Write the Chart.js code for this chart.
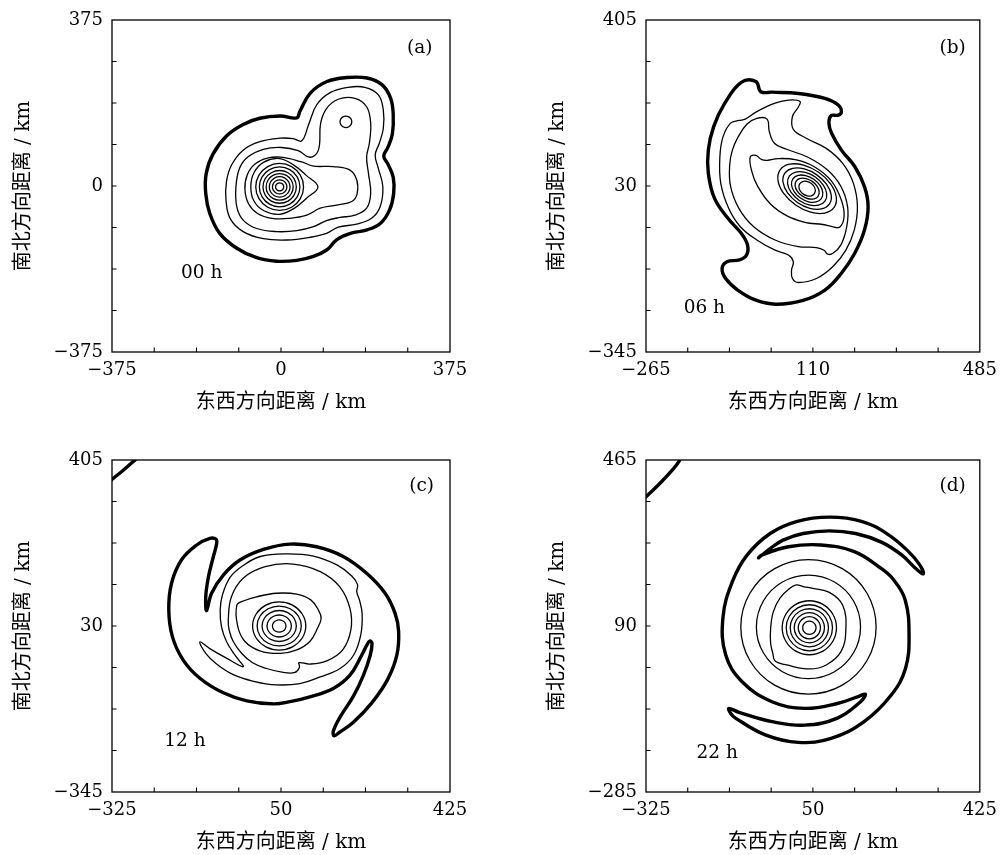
<!DOCTYPE html>
<html>
<head>
<meta charset="utf-8">
<script src="https://cdn.jsdelivr.net/npm/chart.js@4.4.1/dist/chart.umd.min.js"></script>
<style>
  html, body { margin: 0; padding: 0; background: #fff; overflow: hidden; }
  canvas { position: absolute; }
</style>
</head>
<body>
<canvas id="pa" width="480" height="415" style="left:0px;top:0px"></canvas>
<canvas id="pb" width="471" height="415" style="left:534px;top:0px"></canvas>
<canvas id="pc" width="480" height="415" style="left:0px;top:440px"></canvas>
<canvas id="pd" width="471" height="415" style="left:534px;top:440px"></canvas>
<script>
// ---------- axis ranges and labelled ticks (km) ----------
const aXRange = [-375, 375], aYRange = [-375, 375];
const aXLabels = [-375, 0, 375], aYLabels = [-375, 0, 375];
const bXRange = [-265, 485], bYRange = [-345, 405];
const bXLabels = [-265, 110, 485], bYLabels = [-345, 30, 405];
const cXRange = [-325, 425], cYRange = [-345, 405];
const cXLabels = [-325, 50, 425], cYLabels = [-345, 30, 405];
const dXRange = [-325, 425], dYRange = [-285, 465];
const dXLabels = [-325, 50, 425], dYLabels = [-285, 90, 465];

// ---------- (a) 00 h contours, [east km, north km] ----------
const aThick = [[-2,158],[35,154],[42,169],[65,210],[102,236],[146,245],[191,244],[224,229],[243,199],[249,162],[247,117],[237,87],[228,68],[237,50],[249,20],[250,-17],[241,-54],[221,-84],[191,-99],[154,-107],[124,-121],[102,-144],[72,-159],[35,-168],[-10,-170],[-54,-162],[-99,-140],[-136,-107],[-158,-62],[-167,-17],[-166,28],[-151,72],[-121,113],[-84,139],[-47,153]];
const aC2 = [[46,102],[61,138],[79,183],[109,211],[149,223],[186,223],[216,206],[227,172],[227,130],[218,96],[209,70],[216,40],[226,-2],[220,-47],[201,-73],[168,-86],[127,-93],[101,-107],[64,-116],[13,-122],[-39,-119],[-84,-103],[-113,-73],[-122,-32],[-121,10],[-110,47],[-84,81],[-47,100],[-2,108],[27,107]];
const aC3 = [[-39,83],[1,87],[38,80],[64,65],[83,81],[88,142],[101,175],[127,196],[164,198],[190,179],[199,142],[196,96],[190,66],[194,29],[199,-17],[190,-50],[164,-66],[131,-71],[101,-78],[72,-92],[35,-101],[-10,-103],[-54,-96],[-84,-77],[-98,-47],[-100,-2],[-92,40],[-73,66]];
const aC4 = [[-30,63],[0,65],[44,55],[72,45],[116,44],[153,36],[168,14],[169,-17],[157,-35],[124,-43],[87,-50],[57,-66],[20,-73],[-20,-73],[-52,-62],[-72,-40],[-80,-8],[-75,25],[-57,50]];
const aC5 = [[82,-2],[56,24],[30,46],[-3,62],[-38,54],[-60,30],[-67,-2],[-60,-34],[-38,-56],[-3,-64],[30,-50],[56,-28]];
const aCore = [-3, -2];
const aCoreRadii = [53, 45, 37, 30, 23, 16, 9];
const aSmall = [144, 145];
const aSmallRadius = 13;

// ---------- (b) 06 h contours ----------
const bThick = [[-51,264],[-18,266],[-7,243],[19,242],[78,239],[137,228],[167,213],[174,198],[167,190],[151,189],[146,172],[152,149],[174,111],[204,74],[226,28],[234,-17],[226,-69],[204,-122],[174,-167],[137,-205],[86,-229],[26,-237],[-18,-228],[-59,-205],[-86,-179],[-94,-156],[-83,-141],[-55,-137],[-39,-126],[-37,-103],[-51,-77],[-81,-43],[-111,2],[-125,59],[-125,111],[-113,164],[-88,217]];
const bC2 = [[-75,172],[-56,178],[-42,181],[-16,198],[25,217],[55,224],[81,221],[77,208],[64,187],[66,158],[95,138],[140,115],[177,81],[201,36],[210,-17],[203,-69],[184,-115],[155,-152],[118,-179],[77,-188],[64,-179],[62,-160],[66,-141],[55,-126],[25,-115],[-16,-92],[-53,-62],[-79,-21],[-97,36],[-99,96],[-92,141]];
const bC3 = [[-71,111],[-58,141],[-38,170],[-16,183],[7,181],[12,153],[24,126],[51,113],[99,95],[143,66],[173,29],[188,-17],[186,-62],[173,-103],[155,-122],[143,-124],[135,-115],[118,-109],[77,-107],[25,-92],[-23,-62],[-56,-21],[-75,29],[-77,77]];
const bC4 = [[-31,95],[-18,99],[-6,90],[7,88],[32,92],[73,89],[114,73],[151,42],[174,-2],[180,-39],[170,-63],[151,-61],[132,-57],[92,-52],[51,-37],[14,-10],[-14,29],[-27,62]];
const bCore = [97, 24];
const bCoreMajor = [20, 30, 39, 49, 61, 74];
const bCoreMinor = [15, 20, 26, 32, 38, 45];
const bCoreTilt = -35;

// ---------- (c) 12 h contours ----------
const cThick = [[-115,65],[-104,104],[-78,145],[-41,179],[11,203],[70,215],[129,209],[188,187],[240,149],[281,104],[303,59],[311,18],[307,-36],[287,-90],[252,-143],[210,-188],[180,-210],[168,-218],[166,-208],[181,-176],[211,-128],[233,-81],[248,-36],[252,-9],[247,-4],[240,-14],[229,-36],[203,-81],[166,-111],[114,-130],[70,-141],[33,-146],[-26,-139],[-78,-121],[-130,-88],[-167,-47],[-191,6],[-199,66],[-193,126],[-171,179],[-137,213],[-108,228],[-94,226],[-93,215],[-100,187],[-111,141],[-117,96]];
const cC2 = [[-130,-6],[-117,-32],[-93,-56],[-56,-80],[-11,-95],[40,-103],[92,-100],[137,-85],[181,-66],[211,-36],[227,10],[230,58],[224,89],[218,108],[220,123],[207,143],[174,168],[122,188],[62,193],[4,187],[-35,166],[-63,140],[-80,100],[-85,66],[-82,28],[-71,-5],[-52,-36],[-34,-62],[-74,-41],[-108,-21]];
const cC3 = [[-67,44],[-60,96],[-34,138],[15,164],[77,170],[137,153],[180,119],[203,70],[205,21],[187,-24],[153,-48],[114,-56],[90,-53],[91,-63],[81,-75],[55,-75],[18,-66],[-13,-53],[-37,-32],[-56,-5],[-65,21]];
const cC4 = [[-48,77],[-32,87],[-4,96],[40,104],[85,102],[116,89],[133,66],[139,47],[131,25],[114,-5],[85,-24],[48,-32],[3,-26],[-30,-5],[-46,29]];
const cCore = [46, 30];
const cCoreRadii = [15, 27, 38, 49, 59];
const cCoreFlat = 0.92;
const cCorner = [[-345,343],[-324,362],[-300,382],[-274,405],[-258,420]];

// ---------- (d) 22 h contours ----------
const dThick = [[298,208],[290,228],[265,258],[220,296],[161,326],[87,336],[13,326],[-46,299],[-98,250],[-131,190],[-152,110],[-146,25],[-109,-36],[-42,-81],[32,-96],[105,-85],[150,-70],[168,-64],[157,-81],[105,-118],[32,-134],[-42,-126],[-116,-105],[-139,-96],[-135,-107],[-124,-118],[-57,-156],[17,-173],[91,-164],[165,-126],[226,-66],[258,-6],[266,70],[257,150],[230,196],[202,221],[143,258],[68,273],[-5,269],[-65,250],[-72,244],[-46,265],[-17,284],[28,299],[87,305],[146,299],[205,279],[250,250],[283,218]];
const dC3 = [[-2,175],[13,183],[28,179],[50,175],[87,166],[117,137],[124,81],[113,32],[80,2],[43,-7],[-9,2],[-35,11],[-40,28],[-45,51],[-45,85],[-39,122],[-24,153]];
const dOuterRings = [152, 117];
const dOuterCenter = [40, 88];
const dCore = [42, 86];
const dCoreRadii = [15, 25, 34, 43, 52, 61];
const dCorner = [[-345,362],[-325,382],[-294,412],[-266,442],[-252,460],[-244,478]];

// ---------- text ----------
const X_TITLE = '东西方向距离 / km';
const Y_TITLE = '南北方向距离 / km';
const SERIF = '"DejaVu Serif", serif';
const TITLE_FONT = '"DejaVu Serif", "Noto Sans CJK SC", sans-serif';

// ---------- helpers ----------
const THICK = 3.4, THIN = 1.3;

function toXY(pts) { return pts.map(p => ({ x: p[0], y: p[1] })); }

function contour(pts, width, closed = true, tension = 0.4) {
  const ds = { data: toXY(pts), borderColor: '#000', borderWidth: width,
    pointRadius: 0, tension, fill: false, closed };
  if (!closed) ds.clip = 0;
  return ds;
}

// closed ring outline around a centre, from its radii and tilt
function ringPoints(center, rx, ry, tiltDeg) {
  const t = tiltDeg * Math.PI / 180, out = [];
  for (let k = 0; k < 12; k++) {
    const a = k * Math.PI / 6, u = rx * Math.cos(a), v = ry * Math.sin(a);
    out.push([center[0] + u * Math.cos(t) - v * Math.sin(t), center[1] + u * Math.sin(t) + v * Math.cos(t)]);
  }
  return out;
}
function ring(center, rx, ry, tiltDeg) { return contour(ringPoints(center, rx, ry, tiltDeg || 0), THIN, true, 0.35); }

function fmtTick(v) { return v < 0 ? '\u2212' + Math.abs(v) : String(v); }

// closes contour splines smoothly (same mechanism the radar chart uses)
const contourLoop = {
  id: 'contourLoop',
  beforeDatasetsDraw(chart) {
    chart.data.datasets.forEach((ds, i) => {
      if (!ds.closed) return;
      const line = chart.getDatasetMeta(i).dataset;
      if (!line) return;
      line._loop = true;
      line._fullLoop = true;
      line._pointsUpdated = false;
      delete line._segments;
      delete line._path;
    });
  }
};

// frame, inward minor ticks and the panel captions
const panelDecor = {
  id: 'panelDecor',
  afterDraw(chart, args, opts) {
    const { ctx, chartArea: { left, right, top, bottom }, scales: { x, y } } = chart;
    ctx.save();
    ctx.strokeStyle = '#000';
    ctx.lineWidth = 1.3;
    ctx.strokeRect(left, top, right - left, bottom - top);
    ctx.beginPath();
    ctx.lineWidth = 1.1;
    for (let k = 1; k < 8; k++) {
      const px = x.getPixelForValue(x.min + (x.max - x.min) * k / 8);
      ctx.moveTo(px, bottom); ctx.lineTo(px, bottom - 4.5);
      const py = y.getPixelForValue(y.min + (y.max - y.min) * k / 8);
      ctx.moveTo(left, py); ctx.lineTo(left + 4.5, py);
    }
    ctx.stroke();
    ctx.fillStyle = '#000';
    ctx.font = '18.5px ' + SERIF;
    ctx.textAlign = 'center';
    ctx.textBaseline = 'middle';
    ctx.fillText(opts.tag, x.getPixelForValue(opts.tagAt[0]), y.getPixelForValue(opts.tagAt[1]));
    ctx.fillText(opts.time, x.getPixelForValue(opts.timeAt[0]), y.getPixelForValue(opts.timeAt[1]));
    ctx.restore();
  }
};

function axisOpts(range, labels, horizontal) {
  return {
    type: 'linear', min: range[0], max: range[1],
    afterBuildTicks: s => { s.ticks = labels.map(v => ({ value: v })); },
    ticks: { autoSkip: false, maxRotation: 0, minRotation: 0, padding: horizontal ? 8 : 9,
      color: '#000', font: { family: SERIF, size: 18 }, callback: v => fmtTick(v) },
    grid: { display: false, drawTicks: false },
    border: { display: false },
    title: { display: true, text: horizontal ? X_TITLE : Y_TITLE, color: '#000',
      font: { family: TITLE_FONT, size: 20 },
      padding: horizontal ? { top: 0, bottom: 0 } : { top: 12, bottom: 0 } },
    afterFit: s => { if (horizontal) s.height = 63; else s.width = 112; }
  };
}

function buildPanel(id, cfg) {
  new Chart(document.getElementById(id), {
    type: 'line',
    data: { datasets: cfg.datasets },
    options: {
      responsive: false, animation: false, devicePixelRatio: 1, events: [],
      layout: { padding: { top: 20, right: cfg.padRight, left: 0, bottom: 0 } },
      plugins: { legend: { display: false }, tooltip: { enabled: false },
        panelDecor: { tag: cfg.tag, tagAt: cfg.tagAt, time: cfg.time, timeAt: cfg.timeAt } },
      scales: { x: axisOpts(cfg.xRange, cfg.xLabels, true), y: axisOpts(cfg.yRange, cfg.yLabels, false) }
    },
    plugins: [contourLoop, panelDecor]
  });
}

// ---------- panels ----------
buildPanel('pa', {
  padRight: 30, xRange: aXRange, yRange: aYRange, xLabels: aXLabels, yLabels: aYLabels,
  tag: '(a)', tagAt: [308, 312], time: '00 h', timeAt: [-176, -197],
  datasets: [contour(aThick, THICK), contour(aC2, THIN), contour(aC3, THIN), contour(aC4, THIN), contour(aC5, THIN),
    ...aCoreRadii.map(r => ring(aCore, r, r)), ring(aSmall, aSmallRadius, aSmallRadius)]
});

buildPanel('pb', {
  padRight: 21, xRange: bXRange, yRange: bYRange, xLabels: bXLabels, yLabels: bYLabels,
  tag: '(b)', tagAt: [424, 341], time: '06 h', timeAt: [-134, -246],
  datasets: [contour(bThick, THICK), contour(bC2, THIN), contour(bC3, THIN), contour(bC4, THIN),
    ...bCoreMajor.map((a, i) => ring(bCore, a, bCoreMinor[i], bCoreTilt))]
});

buildPanel('pc', {
  padRight: 30, xRange: cXRange, yRange: cYRange, xLabels: cXLabels, yLabels: cYLabels,
  tag: '(c)', tagAt: [362, 345], time: '12 h', timeAt: [-163, -231],
  datasets: [contour(cThick, THICK), contour(cC2, THIN), contour(cC3, THIN), contour(cC4, THIN),
    ...cCoreRadii.map(r => ring(cCore, r, r * cCoreFlat)), contour(cCorner, THICK, false)]
});

buildPanel('pd', {
  padRight: 21, xRange: dXRange, yRange: dYRange, xLabels: dXLabels, yLabels: dYLabels,
  tag: '(d)', tagAt: [364, 405], time: '22 h', timeAt: [-165, -198],
  datasets: [contour(dThick, THICK), contour(dC3, THIN),
    ...dOuterRings.map(r => ring(dOuterCenter, r, r)),
    ...dCoreRadii.map(r => ring(dCore, r, r)), contour(dCorner, THICK, false)]
});
</script>
</body>
</html>
